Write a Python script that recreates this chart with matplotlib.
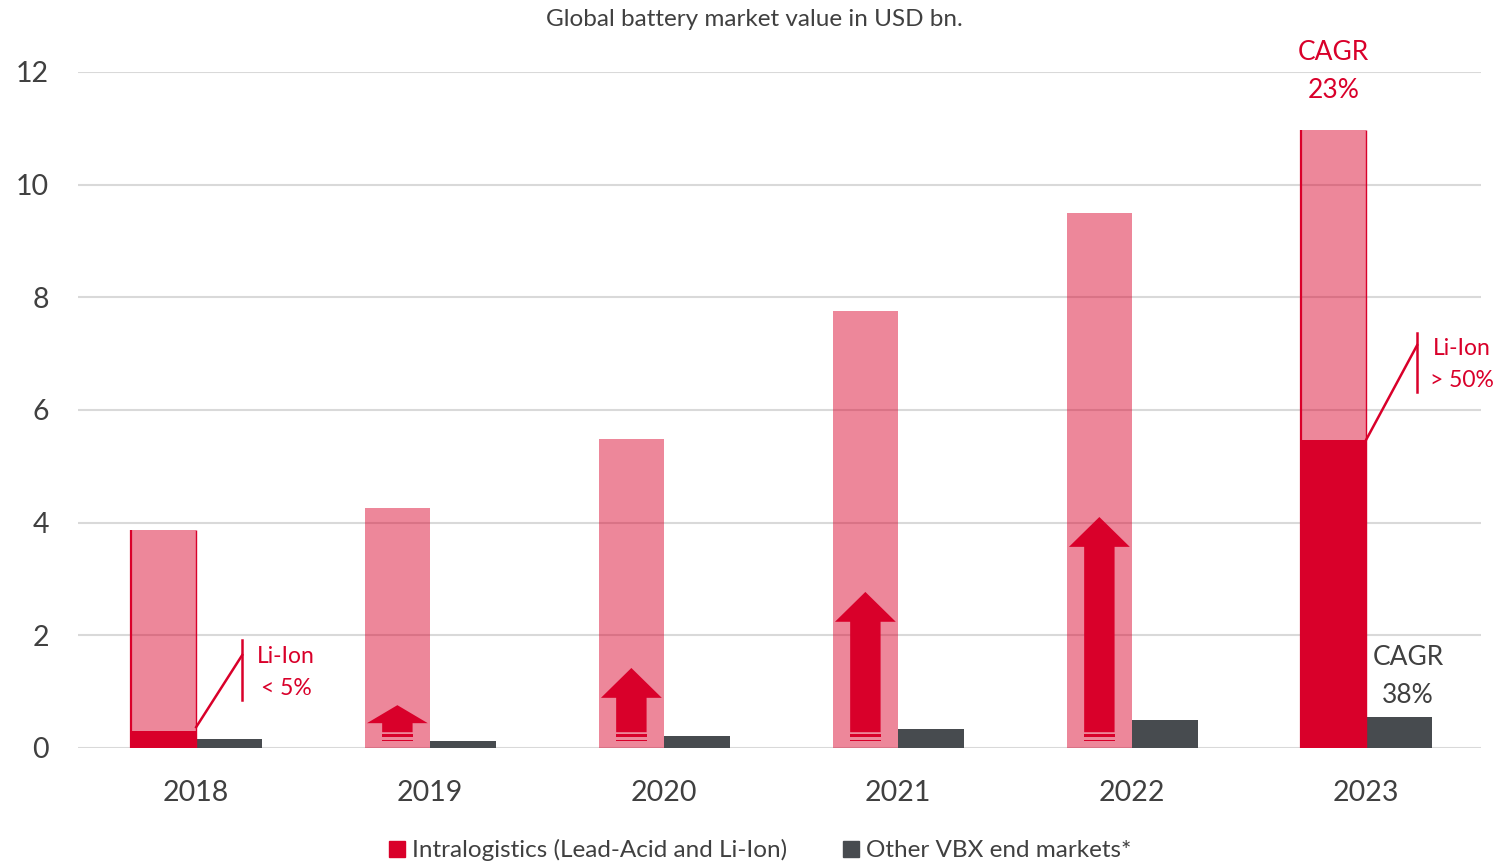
import matplotlib
matplotlib.use("Agg")
import matplotlib.pyplot as plt
from matplotlib.patches import Polygon, Patch
import numpy as np

plt.rcParams['font.family'] = ['Lato', 'DejaVu Sans']

years = ["2018", "2019", "2020", "2021", "2022", "2023"]
intralogistics_total = [3.87, 4.26, 5.49, 7.76, 9.50, 10.97]
li_ion_share_value = [0.30, None, None, None, None, 5.47]
other_vbx = [0.16, 0.12, 0.21, 0.34, 0.50, 0.55]
arrow_tips = [None, 0.76, 1.42, 2.77, 4.10, None]
ticks_y = [0, 2, 4, 6, 8, 10, 12]

RED = "#D9002A"
GRAY = "#474B4F"
TXT = "#404040"

fig = plt.figure(figsize=(15.11, 8.65), dpi=100)
ax = fig.add_axes([0.0516, 0.1353, 0.9284, 0.7815])
x = np.arange(len(years))
w = 0.28

ax.set_ylim(0, 12)
ax.set_xlim(-0.505, 5.49)
ax.set_yticks(ticks_y)
ax.yaxis.grid(True, color="#D9D9D9", linewidth=1.5, zorder=0)
ax.set_axisbelow(True)
for s in ax.spines.values():
    s.set_visible(False)
ax.tick_params(axis='both', length=0, labelsize=20.5, colors=TXT)
ax.tick_params(axis='y', pad=21)
ax.tick_params(axis='x', pad=23)
ax.set_xticks(x)
ax.set_xticklabels(years)

# pink total bars (semi-transparent red)
ax.bar(x - w / 2, intralogistics_total, width=w, color=RED, alpha=0.47,
       linewidth=0, zorder=2)
# solid red Li-Ion parts with red outlines
for i, v in enumerate(li_ion_share_value):
    if v is not None:
        ax.bar(x[i] - w / 2, v, width=w, color=RED, linewidth=0, zorder=3)
        for ex in (x[i] - w, x[i]):
            ax.plot([ex, ex], [0, intralogistics_total[i]], color=RED,
                    lw=1.6 if ex < x[i] else 1.0, zorder=3,
                    solid_capstyle='butt')
# gray bars
ax.bar(x + w / 2, other_vbx, width=w, color=GRAY, linewidth=0, zorder=2)

# growth arrows
hw = 0.26 / 2
bw = 0.13 / 2
for i, tip in enumerate(arrow_tips):
    if tip is None:
        continue
    cx = x[i] - w / 2
    base = 0.28
    hl = min(0.53, 0.5 * (tip - 0.12))
    hb = tip - hl
    pts = [(cx - bw, base), (cx + bw, base), (cx + bw, hb), (cx + hw, hb),
           (cx, tip), (cx - hw, hb), (cx - bw, hb)]
    ax.add_patch(Polygon(pts, closed=True, color=RED, lw=0, zorder=4))
    ax.add_patch(Polygon([(cx - bw, 0.20), (cx + bw, 0.20), (cx + bw, 0.24),
                          (cx - bw, 0.24)], color=RED, lw=0, zorder=4))
    ax.add_patch(Polygon([(cx - bw, 0.12), (cx + bw, 0.12), (cx + bw, 0.145),
                          (cx - bw, 0.145)], color=RED, lw=0, zorder=4))

# Li-Ion annotations
ax.plot([x[0], x[0] + 0.197], [0.37, 1.65], color=RED, lw=1.8, zorder=5)
ax.plot([x[0] + 0.197] * 2, [0.85, 1.92], color=RED, lw=1.8, zorder=5)
ax.text(x[0] + 0.385, 1.63, "Li-Ion", color=RED, fontsize=16.5,
        ha='center', va='center', zorder=5)
ax.text(x[0] + 0.385, 1.06, "< 5%", color=RED, fontsize=16.5,
        ha='center', va='center', zorder=5)

ax.plot([x[5], x[5] + 0.218], [5.47, 7.15], color=RED, lw=1.8, zorder=5)
ax.plot([x[5] + 0.218] * 2, [6.32, 7.37], color=RED, lw=1.8, zorder=5)
ax.text(x[5] + 0.41, 7.09, "Li-Ion", color=RED, fontsize=16.5,
        ha='center', va='center', zorder=5)
ax.text(x[5] + 0.41, 6.52, "> 50%", color=RED, fontsize=16.5,
        ha='center', va='center', zorder=5)

# CAGR labels
ax.text(x[5] - w / 2, 12.35, "CAGR", color=RED, fontsize=19,
        ha='center', va='center', clip_on=False)
ax.text(x[5] - w / 2, 11.67, "23%", color=RED, fontsize=19,
        ha='center', va='center', clip_on=False)
ax.text(x[5] + w / 2 + 0.04, 1.60, "CAGR", color=TXT, fontsize=19,
        ha='center', va='center')
ax.text(x[5] + w / 2 + 0.04, 0.93, "38%", color=TXT, fontsize=19,
        ha='center', va='center')

fig.text(0.499, 0.977, "Global battery market value in USD bn.", color=TXT,
         fontsize=17.5, ha='center', va='center')

handles = [Patch(color=RED), Patch(color=GRAY)]
fig.legend(handles, ["Intralogistics (Lead-Acid and Li-Ion)", "Other VBX end markets*"],
           loc='center', bbox_to_anchor=(0.503, 0.017), ncol=2, frameon=False,
           fontsize=17.5, handlelength=0.65, handleheight=0.65, handletextpad=0.3,
           columnspacing=2.3, labelcolor=TXT)

fig.savefig("out.png", dpi=100)
